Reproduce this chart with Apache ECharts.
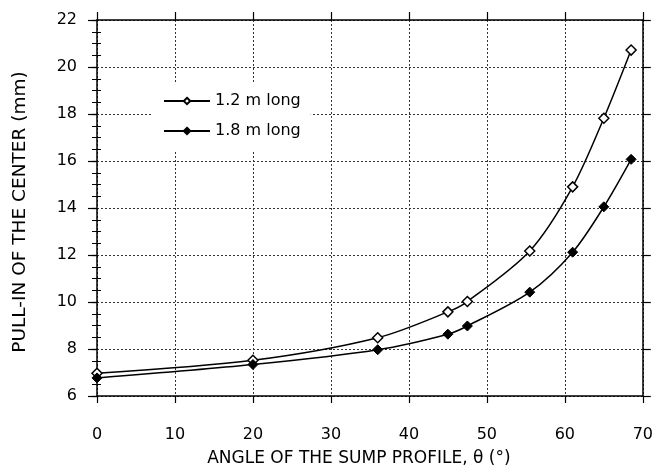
<!DOCTYPE html>
<html>
<head>
<meta charset="utf-8">
<script src="https://cdn.jsdelivr.net/npm/echarts@6/dist/echarts.min.js"></script>
<style>html,body{margin:0;padding:0;background:#fff}#c{width:656px;height:472px}</style>
</head>
<body>
<div id="c"></div>
<script>
const seriesNames = ['1.2 m long', '1.8 m long'];
const angles = [0, 20, 36, 45, 47.5, 55.5, 61, 65, 68.5];
const pull12 = [6.97, 7.52, 8.48, 9.58, 10.02, 12.17, 14.9, 17.82, 20.72];
const pull18 = [6.77, 7.34, 7.97, 8.63, 8.98, 10.42, 12.12, 14.05, 16.07];
const xTicks = [0, 10, 20, 30, 40, 50, 60, 70];
const yTicks = [6, 8, 10, 12, 14, 16, 18, 20, 22];
const xTitle = 'ANGLE OF THE SUMP PROFILE, θ (°)';
const yTitle = 'PULL-IN OF THE CENTER (mm)';

const FONT = 'DejaVu Sans';
const pairs = (xs, ys) => xs.map((x, i) => [x, ys[i]]);
const chart = echarts.init(document.getElementById('c'));
const noLabel = { show: false };
const gridLine = { show: true, lineStyle: { color: '#333', type: [2, 2], width: 1 } };
chart.setOption({
  backgroundColor: '#fff',
  animation: false,
  textStyle: { fontFamily: FONT, color: '#000' },
  grid: { left: 97, right: 12, top: 20, bottom: 76, containLabel: false },
  legend: {
    orient: 'vertical', left: 153, top: 82,
    padding: [11, 10, 11, 10], itemGap: 14,
    itemWidth: 46, itemHeight: 8,
    backgroundColor: '#fff',
    textStyle: { fontFamily: FONT, fontSize: 16, color: '#000' },
    data: seriesNames
  },
  xAxis: [
    {
      type: 'value', position: 'bottom', min: xTicks[0], max: xTicks[xTicks.length - 1], interval: 10,
      axisLine: { show: true, onZero: false, lineStyle: { color: '#000', width: 1.5 } },
      axisTick: { show: true, inside: false, length: 7, lineStyle: { color: '#000', width: 1.2 } },
      axisLabel: { fontFamily: FONT, fontSize: 16, color: '#000', margin: 31 },
      splitLine: gridLine,
      name: xTitle, nameLocation: 'middle', nameGap: 54,
      nameTextStyle: { fontFamily: FONT, fontSize: 17, color: '#000', padding: [0, 22, 0, 0] }
    },
    {
      type: 'value', position: 'top', min: 0, max: 70, interval: 10,
      axisLine: { show: true, onZero: false, lineStyle: { color: '#000', width: 1.5 } },
      axisTick: { show: true, inside: false, length: 8, lineStyle: { color: '#000', width: 1.2 } },
      axisLabel: noLabel, splitLine: { show: false }
    }
  ],
  yAxis: [
    {
      type: 'value', position: 'left', min: yTicks[0], max: yTicks[yTicks.length - 1], interval: 2,
      axisLine: { show: true, onZero: false, lineStyle: { color: '#000', width: 1.5 } },
      axisTick: { show: true, inside: false, length: 9, lineStyle: { color: '#000', width: 1.2 } },
      axisLabel: { fontFamily: FONT, fontSize: 16, color: '#000', margin: 20 },
      splitLine: gridLine,
      name: yTitle, nameLocation: 'middle', nameGap: 67,
      nameTextStyle: { fontFamily: FONT, fontSize: 18.5, color: '#000', padding: [0, 8, 0, 0] }
    },
    {
      type: 'value', position: 'left', min: 6, max: 22, interval: 2,
      axisLine: { show: false }, axisLabel: noLabel, splitLine: { show: false },
      axisTick: { show: false, inside: true },
      minorTick: { show: true, splitNumber: 4, length: 4, lineStyle: { color: '#000', width: 1 } }
    },
    {
      type: 'value', position: 'right', min: 6, max: 22, interval: 2,
      axisLine: { show: true, onZero: false, lineStyle: { color: '#000', width: 1.5 } },
      axisTick: { show: true, inside: false, length: 8, lineStyle: { color: '#000', width: 1.2 } },
      axisLabel: noLabel, splitLine: { show: false }
    },
    {
      type: 'value', position: 'right', min: 6, max: 22, interval: 2,
      axisLine: { show: false }, axisLabel: noLabel, splitLine: { show: false },
      axisTick: { show: true, inside: true, length: 5, lineStyle: { color: '#000', width: 1.2 } },
      minorTick: { show: true, splitNumber: 4, length: 5, lineStyle: { color: '#000', width: 1 } }
    }
  ],
  series: [
    {
      name: seriesNames[0], type: 'line', xAxisIndex: 0, yAxisIndex: 0,
      data: pairs(angles, pull12), smooth: 0.3,
      symbol: 'diamond', symbolSize: 10, showAllSymbol: true,
      lineStyle: { color: '#000', width: 1.5 },
      itemStyle: { color: '#fff', borderColor: '#000', borderWidth: 1.5 },
      z: 3
    },
    {
      name: seriesNames[1], type: 'line', xAxisIndex: 0, yAxisIndex: 0,
      data: pairs(angles, pull18), smooth: 0.3,
      symbol: 'diamond', symbolSize: 10, showAllSymbol: true,
      lineStyle: { color: '#000', width: 1.5 },
      itemStyle: { color: '#000', borderColor: '#000', borderWidth: 1 },
      z: 3
    }
  ]
});
</script>
</body>
</html>
